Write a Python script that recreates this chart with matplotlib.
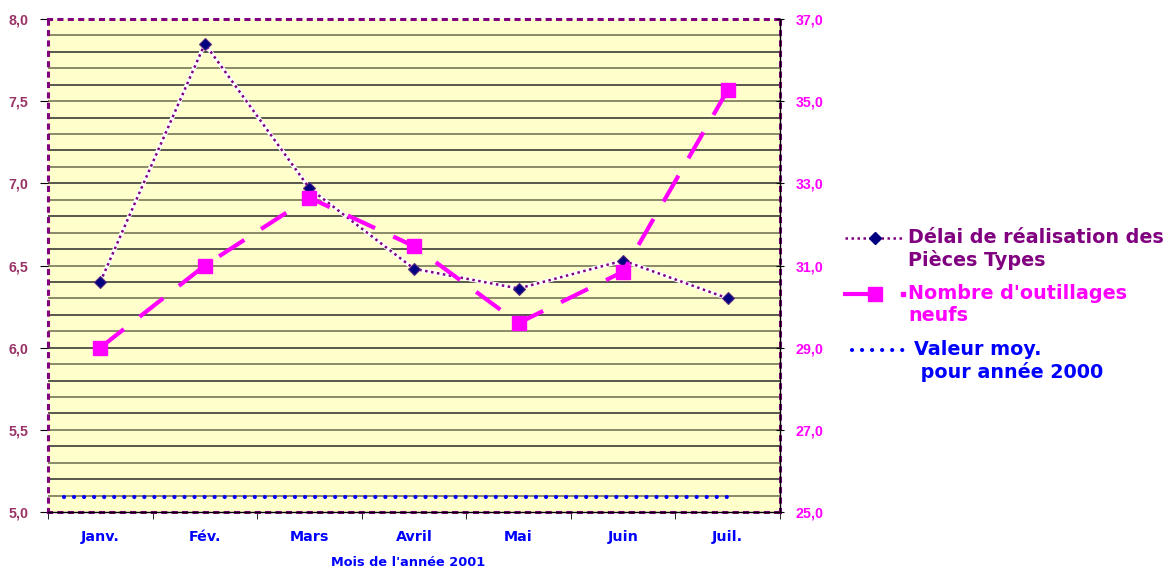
import matplotlib
matplotlib.use("Agg")
import matplotlib.pyplot as plt
from matplotlib.lines import Line2D
import numpy as np

plt.rcParams['font.family'] = ['Liberation Sans', 'DejaVu Sans']
plt.rcParams['font.weight'] = 'bold'

months = ["Janv.", "Fév.", "Mars", "Avril", "Mai", "Juin", "Juil."]
delai = [6.40, 7.85, 6.97, 6.48, 6.36, 6.53, 6.30]
outillages = [29.0, 31.0, 32.65, 31.47, 29.6, 30.85, 35.27]
moyenne_2000 = 5.09

left_ticks = [5.0, 5.5, 6.0, 6.5, 7.0, 7.5, 8.0]
right_ticks = [25.0, 27.0, 29.0, 31.0, 33.0, 35.0, 37.0]

legend_labels = ["Délai de réalisation des\nPièces Types",
                 "Nombre d'outillages\nneufs",
                 "Valeur moy.\n pour année 2000"]

PURPLE = "#800080"
NAVY = "#000080"
MAGENTA = "#FF00FF"
BLUE = "#0000FF"
LEFTCOL = "#993366"
W, H = 1174, 570

fig = plt.figure(figsize=(W/100, H/100), dpi=100)
ax = fig.add_axes([48/W, 1-512/H, 732/W, 493/H])
ax.set_facecolor("#FFFFCC")
x = np.arange(len(months))
ax.set_xlim(-0.5, len(months)-0.5)
ax.set_ylim(5.0, 8.0)

# gridlines every 0.1
for i, g in enumerate(np.arange(5.1, 7.95, 0.1)):
    ax.axhline(g, color="#2a2a2a" if i % 2 else "#6b6b50", lw=1.1, zorder=1)

ax2 = ax.twinx()
ax2.set_ylim(25.0, 37.0)

# average line
ax.plot([-0.35, len(months)-1], [moyenne_2000, moyenne_2000], color=BLUE, lw=3,
        linestyle=(0, (0.01, 2.4)), dash_capstyle='round', zorder=3)

# delai series
ax.plot(x, delai, color="white", lw=3.0, zorder=4)
ax.plot(x, delai, color=PURPLE, lw=1.8, linestyle=(0, (1, 1.4)), zorder=4)
ax.plot(x, delai, linestyle='none', marker='D', ms=6, color=NAVY,
        markeredgecolor="#5a2a80", markeredgewidth=0.8, zorder=5)

# outillages series
ax2.plot(x, outillages, color=MAGENTA, lw=3.0, linestyle=(0, (7.2, 4.8)), marker='s',
         ms=10.5, markerfacecolor=MAGENTA, markeredgecolor=MAGENTA, zorder=4)

# ticks
ax.set_xticks(x)
ax.set_xticklabels(months, color=BLUE, fontsize=10.3, fontweight='bold',
                   family=['DejaVu Sans'])
ax.set_xticks(np.arange(-0.5, len(months), 1.0), minor=True)
ax.tick_params(axis='x', which='major', length=0, pad=13)
ax.tick_params(axis='x', which='minor', length=5, color='black', direction='out')
ax.set_yticks(left_ticks)
ax.set_yticklabels([f"{v:.1f}".replace('.', ',') for v in left_ticks], color=LEFTCOL,
                   fontsize=10.3, fontweight='bold')
ax.tick_params(axis='y', length=6, color='black', direction='out', pad=8)
ax2.set_yticks(right_ticks)
ax2.set_yticklabels([f"{v:.1f}".replace('.', ',') for v in right_ticks], color=MAGENTA,
                    fontsize=10.3, fontweight='bold')
ax2.tick_params(axis='y', length=6, color='black', direction='inout', pad=8)

for s in ax.spines.values():
    s.set_color(PURPLE)
    s.set_linewidth(2.2)
    s.set_linestyle((0, (1, 2.4)))
for k, s in ax2.spines.items():
    if k in ('bottom', 'right'):
        s.set_color('black')
        s.set_linewidth(1.0)
    else:
        s.set_visible(False)
ax.set_xlabel("Mois de l'année 2001", color=BLUE, fontsize=9.3, fontweight='bold',
              family=['DejaVu Sans'], va='center')
ax.xaxis.set_label_coords((408 - 48) / 732, (512 - 563) / 493)

# legend (manual, to keep handles aligned with first text line)
def fx(px):
    return px / W

def fy(py):
    return 1 - py / H

y1, y2, y3 = 238, 294, 350
fig.add_artist(Line2D([fx(845), fx(905)], [fy(y1), fy(y1)], color=PURPLE, lw=1.8,
                      linestyle=(0, (1, 1.4))))
fig.add_artist(Line2D([fx(875)], [fy(y1)], color=NAVY, marker='D', ms=6, linestyle='none'))
fig.add_artist(Line2D([fx(845), fx(878)], [fy(y2), fy(y2)], color=MAGENTA, lw=3.0))
fig.add_artist(Line2D([fx(875)], [fy(y2)], color=MAGENTA, marker='s', ms=10.5, linestyle='none'))
fig.add_artist(Line2D([fx(903)], [fy(y2)], color=MAGENTA, marker='s', ms=2.5, linestyle='none'))
fig.add_artist(Line2D([fx(852), fx(905)], [fy(y3), fy(y3)], color=BLUE, lw=3,
                      linestyle=(0, (0.01, 2.4)), dash_capstyle='round'))

for (tx, ty, lab, col) in [(908, y1, legend_labels[0], PURPLE),
                           (908, y2, legend_labels[1], MAGENTA),
                           (914, y3, legend_labels[2], BLUE)]:
    fig.text(fx(tx), fy(ty - 10), lab, color=col, fontsize=13.8, fontweight='bold',
             family=['DejaVu Sans'], va='top', ha='left', linespacing=1.18)

fig.savefig("out.png", dpi=100)
